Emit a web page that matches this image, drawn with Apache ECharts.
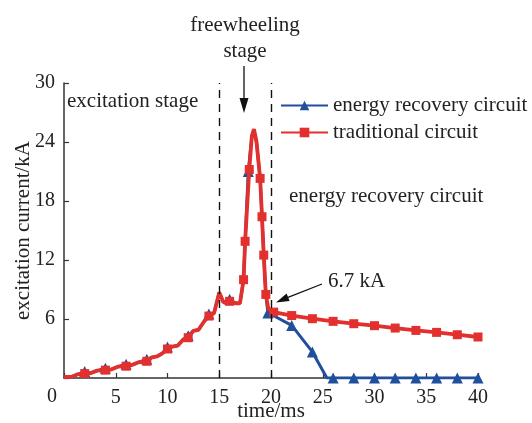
<!DOCTYPE html>
<html>
<head>
<meta charset="utf-8">
<script src="https://cdn.jsdelivr.net/npm/echarts@6/dist/echarts.min.js"></script>
<style>
html,body{margin:0;padding:0;background:#fff;}
#chart{width:532px;height:423px;}
</style>
</head>
<body>
<div id="chart"></div>
<script>
// ---- data (time in ms, current in kA) ----
const tradTime = [0,0.8,1.4,2,2.6,3.2,4,4.5,5.2,6,6.5,7.2,8,8.5,9,9.5,10,10.5,11,11.5,12,12.5,13,13.5,14,14.5,15,15.4,16,16.6,17,17.35,17.5,17.9,18.15,18.35,18.6,18.95,19.13,19.3,19.5,19.75,20.26,22,24,26,28,30,32,34,36,38,40];
const tradValue = [0.1,0.15,0.4,0.45,0.5,0.75,0.8,0.85,1.15,1.2,1.3,1.6,1.7,2.1,2.2,2.5,2.95,3.2,3.3,3.9,4.1,4.8,4.9,5.7,6.3,6.6,8.7,7.7,7.8,7.6,7.6,10.0,13.9,21.2,24.6,25.3,24.0,20.3,16.4,12.5,8.5,7.0,6.7,6.35,6.03,5.76,5.52,5.32,5.08,4.84,4.64,4.4,4.17];
const tradMarkTimes = [2,4,6,8,10,12,14,16,17.35,17.5,17.9,18.95,19.13,19.3,19.5,20.26,22,24,26,28,30,32,34,36,38,40];

const recTime = [0,0.8,1.4,2,2.6,3.2,4,4.5,5.2,6,6.5,7.2,8,8.5,9,9.5,10,10.5,11,11.5,12,12.5,13,13.5,14,14.5,15,15.4,16,16.6,17,17.35,17.5,17.8,18.15,18.35,18.6,18.95,19.13,19.3,19.5,19.7,20.3,22,24,25.4,26,28,30,32,34,36,38,40];
const recValue = [0.1,0.15,0.4,0.65,0.5,0.75,1.0,0.85,1.15,1.4,1.3,1.6,1.9,2.1,2.2,2.5,3.15,3.2,3.3,3.9,4.3,4.8,4.9,5.7,6.5,6.6,8.7,7.7,8.0,7.6,7.6,10.0,13.9,21.0,24.6,25.3,24.0,20.3,16.4,12.5,8.5,6.6,6.3,5.35,2.65,0,0,0,0,0,0,0,0,0];
const recMarkTimes = [2,4,6,8,10,12,14,16,17.8,19.7,22,24,26,28,30,32,34,36,38,40];

const xTicks = [0,5,10,15,20,25,30,35,40];
const yTicks = [0,6,12,18,24,30];
const stageBounds = [15,20];

const seriesNames = ['energy recovery circuit','traditional circuit'];
const RED = '#e2302e', BLUE = '#1f4f9d';
const FONT = 'Liberation Serif';

function build(times, vals, marks, sym){
  return times.map((t,i)=>({value:[t, vals[i]], symbol: marks.includes(t) ? sym : 'none'}));
}

const chart = echarts.init(document.getElementById('chart'));
chart.setOption({
  animation:false,
  backgroundColor:'#fff',
  textStyle:{fontFamily:FONT},
  grid:{left:64,right:54,top:83,bottom:45,containLabel:false,outerBoundsMode:'none'},
  legend:{
    orient:'vertical', left:275, top:90, itemWidth:47, itemHeight:12, itemGap:6,
    textStyle:{fontFamily:FONT,fontSize:21,color:'#222'},
    data:seriesNames
  },
  xAxis:{
    type:'value', min:xTicks[0], max:xTicks[xTicks.length-1], interval:5,
    name:'time/ms', nameLocation:'middle', nameGap:23, nameMoveOverlap:false,
    nameTextStyle:{fontFamily:FONT,fontSize:21,color:'#222'},
    axisLine:{show:true,onZero:false,lineStyle:{color:'#333',width:1.5}},
    axisTick:{show:true,inside:true,length:5,lineStyle:{color:'#333',width:1.2}},
    axisLabel:{fontFamily:FONT,fontSize:20,color:'#222',margin:10,
      formatter:v=> v===0 ? '' : String(v)},
    splitLine:{show:false}
  },
  yAxis:{
    type:'value', min:yTicks[0], max:yTicks[yTicks.length-1], interval:6,
    name:'excitation current/kA', nameLocation:'middle', nameGap:30, nameRotate:90, nameMoveOverlap:false,
    nameTextStyle:{fontFamily:FONT,fontSize:21,color:'#222'},
    axisLine:{show:true,lineStyle:{color:'#333',width:1.5}},
    axisTick:{show:true,inside:true,length:5,lineStyle:{color:'#333',width:1.2}},
    axisLabel:{fontFamily:FONT,fontSize:20,color:'#222',margin:9,
      formatter:v=> v===0 ? '' : String(v)},
    splitLine:{show:false}
  },
  series:[
    {
      name:seriesNames[0], type:'line', symbol:'triangle', symbolSize:11,
      data:build(recTime, recValue, recMarkTimes, 'triangle'),
      lineStyle:{color:BLUE,width:3}, itemStyle:{color:BLUE}, z:2
    },
    {
      name:seriesNames[1], type:'line', symbol:'rect', symbolSize:9,
      data:build(tradTime, tradValue, tradMarkTimes, 'rect'),
      lineStyle:{color:RED,width:3.8}, itemStyle:{color:RED}, z:3,
      markLine:{
        silent:true, symbol:'none', label:{show:false},
        lineStyle:{color:'#111',type:[8,6],width:1.4},
        data:stageBounds.map(x=>({xAxis:x}))
      }
    }
  ],
  graphic:[
    {type:'text', left:47, top:387, style:{text:'0',font:'20px '+FONT,fill:'#222'}},
    {type:'text', left:67, top:91, style:{text:'excitation stage',font:'21px '+FONT,fill:'#222'}},
    {type:'text', x:245, y:25, style:{text:'freewheeling',font:'21px '+FONT,fill:'#222',align:'center',verticalAlign:'middle'}},
    {type:'text', x:245, y:51, style:{text:'stage',font:'21px '+FONT,fill:'#222',align:'center',verticalAlign:'middle'}},
    {type:'line', shape:{x1:244,y1:66,x2:244,y2:100}, style:{stroke:'#111',lineWidth:1.3}},
    {type:'polygon', shape:{points:[[239.5,98],[248.5,98],[244,113]]}, style:{fill:'#111'}},
    {type:'text', left:289, top:186, style:{text:'energy recovery circuit',font:'21px '+FONT,fill:'#222'}},
    {type:'text', left:328, top:271, style:{text:'6.7 kA',font:'21px '+FONT,fill:'#222'}},
    {type:'line', shape:{x1:322,y1:284,x2:288,y2:297.3}, style:{stroke:'#111',lineWidth:1.3}},
    {type:'polygon', shape:{points:[[289.6,301.0],[286.6,293.6],[276,302.5]]}, style:{fill:'#111'}}
  ]
});
</script>
</body>
</html>
